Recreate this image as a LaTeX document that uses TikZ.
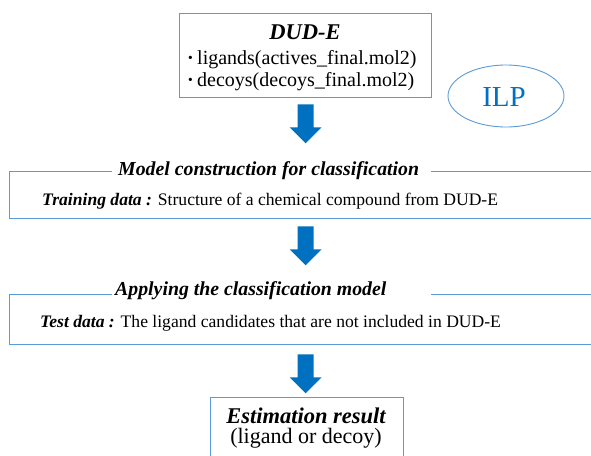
\documentclass[tikz,border=0pt]{standalone}
\usepackage{fontspec}
\setmainfont{Liberation Serif}
\usetikzlibrary{calc,shapes.geometric}
\definecolor{lineblue}{RGB}{91,155,213}
\definecolor{arrowblue}{RGB}{0,112,192}
\tikzset{
  panel/.style={draw=lineblue, line width=1.3pt, inner sep=0pt},
  txt/.style={inner sep=0pt, font=\fontsize{17.6}{20}\selectfont},
  bigtxt/.style={inner sep=0pt, font=\fontsize{20}{23}\selectfont},
  headtxt/.style={inner sep=0pt, font=\fontsize{19.8}{22}\selectfont\bfseries\itshape},
  bighead/.style={inner sep=0pt, font=\fontsize{22.5}{25}\selectfont\bfseries\itshape},
  gapmask/.style={fill=white, inner sep=0pt, minimum height=14pt, minimum width=319pt},
  downarrow/.pic={\fill[arrowblue] (-8,0) -- (8,0) -- (8,23) -- (16,23) -- (0,39)
                   -- (-16,23) -- (-8,23) -- cycle;}
}
\begin{document}
\begin{tikzpicture}[x=1pt, y=-1pt]
  \clip (0,0) rectangle (591,455);
  \fill[white] (0,0) rectangle (591,455);

  % source data box
  \node[panel, minimum width=252pt, minimum height=84pt, anchor=north west] (dude) at (179,13) {};
  \node[bighead, anchor=base] (dudetitle) at (305,39) {DUD-E};
  \node[bigtxt, anchor=base west] (lig) at (187,64) {{\bfseries ·}\,ligands(actives\_final.mol2)};
  \node[bigtxt, anchor=base west] (dec) at (187,86) {{\bfseries ·}\,decoys(decoys\_final.mol2)};

  % method label
  \node[draw=lineblue, line width=0.9pt, ellipse, minimum width=116pt, minimum height=62pt,
        inner sep=0pt] (ilp) at (506,96) {};
  \node[text=arrowblue, inner sep=0pt, font=\fontsize{29}{32}\selectfont] (ilptext) at (504,97) {ILP};

  % model construction stage
  \node[panel, minimum width=595pt, minimum height=47pt, anchor=north west] (model) at (9,171) {};
  \node[gapmask, anchor=west] (mgap) at (112,171) {};
  \node[headtxt, anchor=base west] (mtitle) at (118,175) {Model construction for classification};
  \node[txt, anchor=base west] (mtrain) at (42,205)
    {\textbf{\textit{Training data :}} Structure of a chemical compound from DUD-E};

  % application stage
  \node[panel, minimum width=595pt, minimum height=50pt, anchor=north west] (apply) at (9,294) {};
  \node[gapmask, anchor=west] (agap) at (112,294) {};
  \node[headtxt, anchor=base west] (atitle) at (115,295) {Applying the classification model};
  \node[txt, anchor=base west] (atest) at (40,327)
    {\textbf{\textit{Test data :}} The ligand candidates that are not included in DUD-E};

  % result box
  \node[panel, minimum width=193pt, minimum height=75pt, anchor=north west] (result) at (210,397) {};
  \node[bighead, anchor=base] (rtitle) at (306,423) {Estimation result};
  \node[bigtxt, font=\fontsize{22}{25}\selectfont, anchor=base] (rtext) at (306,443) {(ligand or decoy)};

  % flow arrows
  \coordinate (a1) at ($(dude.south)+(0,6)$);
  \coordinate (a2) at ($(dude.south |- model.south)+(0,7)$);
  \coordinate (a3) at ($(dude.south |- apply.south)+(0,9)$);
  \pic at (a1) {downarrow};
  \pic at (a2) {downarrow};
  \pic at (a3) {downarrow};
\end{tikzpicture}
\end{document}
